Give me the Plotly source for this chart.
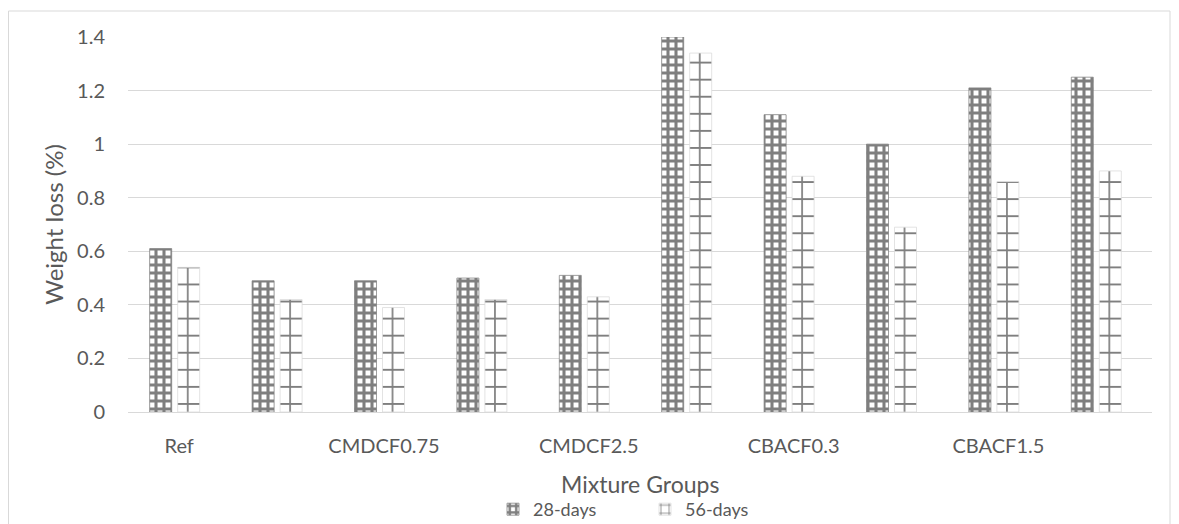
import plotly.graph_objects as go

categories = ["Ref", "CMDCF0.3", "CMDCF0.75", "CMDCF1.5", "CMDCF2.5",
              "CBACF0.15", "CBACF0.3", "CBACF0.75", "CBACF1.5", "CBACF2.5"]
shown_labels = ["Ref", "CMDCF0.75", "CMDCF2.5", "CBACF0.3", "CBACF1.5"]
days28 = [0.61, 0.49, 0.49, 0.50, 0.51, 1.40, 1.11, 1.00, 1.21, 1.25]
days56 = [0.54, 0.42, 0.39, 0.42, 0.43, 1.34, 0.88, 0.69, 0.86, 0.90]
yticks = [0, 0.2, 0.4, 0.6, 0.8, 1, 1.2, 1.4]
yticklabels = ["0", "0.2", "0.4", "0.6", "0.8", "1", "1.2", "1.4"]

FONT = "Lato, 'Open Sans', sans-serif"
GRAY = "#595959"

# the page adds an 8px body margin, so the figure is drawn 8px smaller
W, H = 1171, 516
ML, MR, MT, MB = 120, 27, 29, 112
plot_w = W - ML - MR
plot_h = H - MT - MB
cat_px = plot_w / len(categories)
bar_px = 22.0
bw = bar_px / cat_px

fig = go.Figure()
fig.add_trace(go.Bar(
    x=categories, y=days28, name="28-days",
    width=bw, offset=(-18.5 - bar_px / 2) / cat_px,
    marker=dict(color="white",
                line=dict(color="#7f7f7f", width=0.75),
                pattern=dict(shape="+", fgcolor="black", bgcolor="white",
                             size=8, solidity=0.62, fillmode="overlay")),
))
fig.add_trace(go.Bar(
    x=categories, y=days56, name="56-days",
    width=bw, offset=(9.5 - bar_px / 2) / cat_px,
    marker=dict(color="white",
                line=dict(color="#d9d9d9", width=0.75),
                pattern=dict(shape="+", fgcolor="black", bgcolor="white",
                             size=cat_px / 6, solidity=0.19, fillmode="overlay")),
))

fig.update_layout(
    width=W, height=H,
    margin=dict(l=ML, r=MR, t=MT, b=MB, autoexpand=False),
    paper_bgcolor="white", plot_bgcolor="white",
    barmode="overlay",
    font=dict(family=FONT, color=GRAY, size=20),
    showlegend=True,
    legend=dict(orientation="h", x=(485 - ML) / plot_w, xanchor="left",
                yref="container", y=1 - 483 / H, yanchor="top",
                font=dict(size=18, color=GRAY), itemwidth=30,
                entrywidth=107, entrywidthmode="pixels",
                traceorder="normal"),
    xaxis=dict(
        type="category", automargin=False,
        tickmode="array", tickvals=shown_labels, ticktext=shown_labels,
        showline=True, linecolor="#d9d9d9", linewidth=1,
        showgrid=False, ticks="", ticklabelstandoff=16,
        tickfont=dict(size=20, color=GRAY),
    ),
    yaxis=dict(
        range=[0, 1.4], automargin=False,
        tickmode="array", tickvals=yticks, ticktext=yticklabels,
        showgrid=True, gridcolor="#d9d9d9", gridwidth=1,
        zeroline=False, showline=False, ticks="", ticklabelstandoff=22,
        tickfont=dict(size=20, color=GRAY),
        title=dict(text="Weight loss (%)", font=dict(size=24, color=GRAY), standoff=6),
    ),
    annotations=[dict(text="Mixture Groups", xref="paper", yref="paper",
                      x=0.5, y=-72 / plot_h, xanchor="center", yanchor="middle",
                      showarrow=False, font=dict(size=23, color=GRAY))],
    shapes=[dict(type="rect", xref="paper", yref="paper",
                 x0=(0.5 - ML) / plot_w, x1=(1162 - ML) / plot_w,
                 y0=-0.5, y1=(H - MB - 3) / plot_h,
                 line=dict(color="#d9d9d9", width=1), fillcolor="rgba(0,0,0,0)",
                 layer="below")],
)

fig.write_html("out.html")
